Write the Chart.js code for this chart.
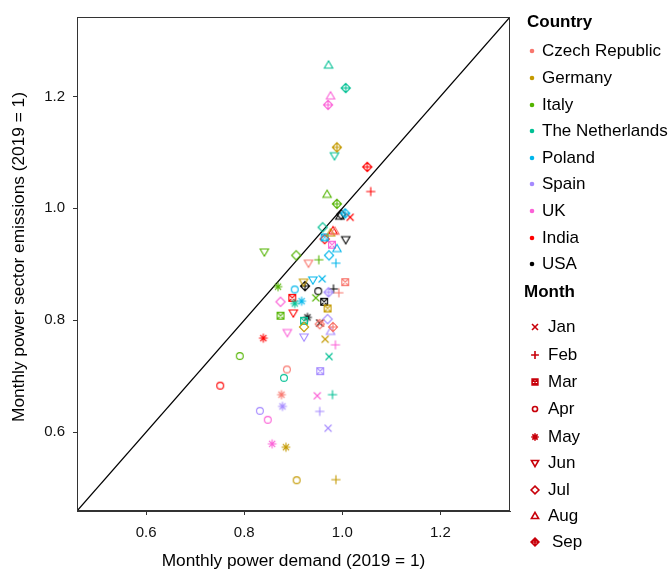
<!DOCTYPE html>
<html><head><meta charset="utf-8">
<script src="https://cdn.jsdelivr.net/npm/chart.js@4/dist/chart.umd.min.js"></script>
<style>
html,body{margin:0;padding:0;background:#fff;}
#wrap{position:relative;width:671px;height:569px;overflow:hidden;}
#c{position:absolute;left:0;top:0;}
.lt{position:absolute;font-family:'Liberation Sans',Arial,Helvetica,sans-serif;font-size:17px;line-height:20px;color:#000;white-space:nowrap;}
.lh{font-weight:bold;}
.sym{position:absolute;}
</style></head>
<body><div id="wrap"><canvas id="c" width="671" height="569"></canvas></div>
<script>
// ---- data ----
const countries = ['Czech Republic','Germany','Italy','The Netherlands','Poland','Spain','UK','India','USA'];
const months = ['Jan','Feb','Mar','Apr','May','Jun','Jul','Aug','Sep'];
const countryColors = ['#F8766D','#C49A00','#53B400','#00C094','#00B6EB','#A58AFF','#FB61D7','#FF0000','#000000'];
const monthShapes = ['x','plus','sqx','circle','star','tridown','diamond','triup','diaplus'];
const tickVals = [0.6, 0.8, 1.0, 1.2];
const axisMin = 0.459, axisMax = 1.342;
// demand (x) and emissions (y) by month Jan..Sep
const czechDemand  = [0.956,0.993,1.006,0.887,0.876,0.931,0.954,0.985,0.981];
const czechEmis    = [0.795,0.849,0.868,0.712,0.667,0.902,0.793,0.959,0.788];
const germanyDemand= [0.965,0.987,0.970,0.907,0.885,0.921,0.922,0.976,0.989];
const germanyEmis  = [0.766,0.515,0.821,0.514,0.573,0.868,0.788,0.956,1.109];
const italyDemand  = [0.946,0.952,0.874,0.791,0.869,0.841,0.906,0.969,0.989];
const italyEmis    = [0.840,0.908,0.808,0.736,0.860,0.922,0.916,1.025,1.008];
const nlDemand     = [0.973,0.980,0.922,0.881,0.903,0.984,0.960,0.972,1.007];
const nlEmis       = [0.735,0.667,0.799,0.697,0.830,1.094,0.966,1.256,1.215];
const polandDemand = [0.959,0.987,0.964,0.903,0.917,0.940,0.973,0.989,1.006];
const polandEmis   = [0.874,0.902,0.948,0.855,0.834,0.872,0.916,0.928,0.991];
const spainDemand  = [0.971,0.954,0.955,0.832,0.878,0.922,0.970,0.976,0.972];
const spainEmis    = [0.607,0.637,0.709,0.638,0.646,0.770,0.802,0.780,0.850];
const ukDemand     = [0.949,0.986,0.979,0.848,0.857,0.888,0.874,0.976,0.971];
const ukEmis       = [0.665,0.756,0.935,0.622,0.579,0.778,0.833,1.201,1.185];
const indiaDemand  = [1.016,1.058,0.898,0.751,0.839,0.900,0.964,0.981,1.051];
const indiaEmis    = [0.984,1.030,0.840,0.683,0.768,0.813,0.945,0.960,1.074];
const usaDemand    = [0.954,0.982,0.963,0.951,0.929,1.007,0.998,0.995,0.924];
const usaEmis      = [0.795,0.856,0.833,0.852,0.805,0.944,0.989,0.986,0.861];

const demand = [czechDemand,germanyDemand,italyDemand,nlDemand,polandDemand,spainDemand,ukDemand,indiaDemand,usaDemand];
const emis   = [czechEmis,germanyEmis,italyEmis,nlEmis,polandEmis,spainEmis,ukEmis,indiaEmis,usaEmis];

const FONT = "'Liberation Sans', Arial, Helvetica, sans-serif";
const xTitle = 'Monthly power demand (2019 = 1)';
const yTitle = 'Monthly power sector emissions (2019 = 1)';

// ---- shape drawing ----
function drawShape(ctx, shape, cx, cy, s, color, lw){
  ctx.strokeStyle=color; ctx.fillStyle=color; ctx.lineWidth=lw; ctx.lineJoin='miter';
  ctx.beginPath();
  let a;
  switch(shape){
    case 'x': a=3.5*s; ctx.moveTo(cx-a,cy-a);ctx.lineTo(cx+a,cy+a);ctx.moveTo(cx-a,cy+a);ctx.lineTo(cx+a,cy-a); break;
    case 'plus': a=4.6*s; ctx.moveTo(cx-a,cy);ctx.lineTo(cx+a,cy);ctx.moveTo(cx,cy-a);ctx.lineTo(cx,cy+a); break;
    case 'sqx': a=3.4*s; ctx.rect(cx-a,cy-a,2*a,2*a); ctx.moveTo(cx-a,cy-a);ctx.lineTo(cx+a,cy+a);ctx.moveTo(cx-a,cy+a);ctx.lineTo(cx+a,cy-a); break;
    case 'circle': a=3.4*s; ctx.arc(cx,cy,a,0,Math.PI*2); break;
    case 'star': a=4.4*s; ctx.moveTo(cx-a,cy);ctx.lineTo(cx+a,cy);ctx.moveTo(cx,cy-a);ctx.lineTo(cx,cy+a);
      a=3.1*s; ctx.moveTo(cx-a,cy-a);ctx.lineTo(cx+a,cy+a);ctx.moveTo(cx-a,cy+a);ctx.lineTo(cx+a,cy-a); break;
    case 'triup': a=4.2*s; ctx.moveTo(cx,cy-a);ctx.lineTo(cx+a,cy+0.72*a);ctx.lineTo(cx-a,cy+0.72*a);ctx.closePath(); break;
    case 'tridown': a=4.2*s; ctx.moveTo(cx,cy+a);ctx.lineTo(cx+a,cy-0.72*a);ctx.lineTo(cx-a,cy-0.72*a);ctx.closePath(); break;
    case 'diamond': a=4.6*s; ctx.moveTo(cx,cy-a);ctx.lineTo(cx+a,cy);ctx.lineTo(cx,cy+a);ctx.lineTo(cx-a,cy);ctx.closePath(); break;
    case 'diaplus': a=4.6*s; ctx.moveTo(cx,cy-a);ctx.lineTo(cx+a,cy);ctx.lineTo(cx,cy+a);ctx.lineTo(cx-a,cy);ctx.closePath();
      ctx.moveTo(cx-a,cy);ctx.lineTo(cx+a,cy);ctx.moveTo(cx,cy-a);ctx.lineTo(cx,cy+a); break;
    case 'dot': a=2.3*s; ctx.arc(cx,cy,a,0,Math.PI*2); ctx.fill(); return;
  }
  ctx.stroke();
}
const cache = {};
function shapeCanvas(shape,color,s,lw){
  const k=shape+color+s+lw; if(cache[k]) return cache[k];
  const cv=document.createElement('canvas'); cv.width=18; cv.height=18;
  drawShape(cv.getContext('2d'),shape,9,9,s,color,lw);
  cache[k]=cv; return cv;
}

// ---- datasets ----
const datasets = [{
  type:'line', label:'identity', order:100,
  data:[{x:axisMin,y:axisMin},{x:axisMax,y:axisMax}],
  borderColor:'#000', borderWidth:1.2, pointRadius:0, showLine:true, fill:false
}];
countries.forEach((c,ci)=>{
  datasets.push({
    label:c, order:ci,
    data: demand[ci].map((d,mi)=>({x:d,y:emis[ci][mi]})),
    pointStyle: ctx => shapeCanvas(monthShapes[ctx.dataIndex], countryColors[ci], 1, 1.1),
    pointRadius:4, backgroundColor:countryColors[ci], borderColor:countryColors[ci]
  });
});

const frame = {
  id:'frame',
  afterDatasetsDraw(chart){
    const {ctx, chartArea:a}=chart;
    ctx.save(); ctx.strokeStyle='#333'; ctx.lineWidth=1;
    ctx.strokeRect(Math.round(a.left)+0.5, Math.round(a.top)+0.5, Math.round(a.right-a.left)-1, Math.round(a.bottom-a.top)-1);
    ctx.restore();
  },
  afterDraw(chart){
    const ctx=chart.ctx;
    ctx.save();
    ctx.font = "17.3px " + FONT; ctx.fillStyle='#000'; ctx.textAlign='center'; ctx.textBaseline='middle';
    ctx.translate(19.5, 257); ctx.rotate(-Math.PI/2);
    ctx.fillText(yTitle, 0, 0);
    ctx.restore();
  }
};

new Chart(document.getElementById('c'), {
  type:'scatter',
  data:{datasets},
  options:{
    responsive:false, animation:false, events:[],
    layout:{padding:{top:15,right:161,left:0,bottom:0}},
    plugins:{legend:{display:false}, tooltip:{enabled:false}},
    scales:{
      x:{type:'linear', min:axisMin, max:axisMax,
        afterFit:s=>{s.height=58;},
        afterBuildTicks:s=>{s.ticks=tickVals.map(v=>({value:v}));},
        ticks:{callback:v=>Number(v).toFixed(1), font:{family:FONT,size:15}, color:'#111', padding:9, maxRotation:0, autoSkip:false},
        grid:{display:true, drawOnChartArea:false, drawTicks:true, tickLength:4, color:'#333', lineWidth:1},
        border:{display:true, color:'#333', width:1},
        title:{display:true, text:xTitle, font:{family:FONT,size:17.3,lineHeight:1}, color:'#000', padding:{top:0,bottom:-1}}
      },
      y:{type:'linear', min:axisMin, max:axisMax,
        afterFit:s=>{s.width=77;},
        afterBuildTicks:s=>{s.ticks=tickVals.map(v=>({value:v}));},
        ticks:{callback:v=>Number(v).toFixed(1), font:{family:FONT,size:15}, color:'#111', padding:8, autoSkip:false},
        grid:{display:true, drawOnChartArea:false, drawTicks:true, tickLength:4, color:'#333', lineWidth:1},
        border:{display:true, color:'#333', width:1},
        title:{display:false}
      }
    }
  },
  plugins:[frame]
});

// ---- HTML legend ----
const wrap=document.getElementById('wrap');
function addText(txt,x,cy,bold){
  const d=document.createElement('div'); d.className='lt'+(bold?' lh':''); d.textContent=txt;
  d.style.left=x+'px'; d.style.top=(cy-10)+'px'; wrap.appendChild(d);
}
function addSym(cv,cx,cy){
  cv.className='sym'; cv.style.left=(cx-9)+'px'; cv.style.top=(cy-9)+'px'; wrap.appendChild(cv);
}
function symCanvas(shape,color,s,lw){
  const cv=document.createElement('canvas'); cv.width=18; cv.height=18;
  drawShape(cv.getContext('2d'),shape,9,9,s,color,lw); return cv;
}
const countryY=[51,78,105,131,158,184,211,238,264];
const monthY=[327,355,382,409,437,463,490,516,542];
addText('Country',527,22,true);
countries.forEach((c,i)=>{ addSym(symCanvas('dot',countryColors[i],1,1),532,countryY[i]); addText(c,542,countryY[i]); });
addText('Month',524,292,true);
const legendRed='#C8000A';
months.forEach((m,i)=>{
  const sc = monthShapes[i]==='circle'?0.75:0.85;
  addSym(symCanvas(monthShapes[i],legendRed,sc,1.6),535,monthY[i]);
  addText(m, m==='Sep'?552:548, monthY[i]);
});
</script></body></html>
